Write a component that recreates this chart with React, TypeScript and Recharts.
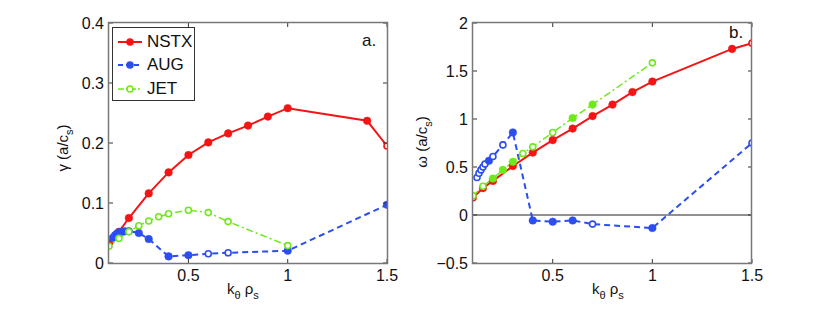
import React from "react";
import { LineChart, Line, XAxis, YAxis, ReferenceLine } from "recharts";

const NSTX_X = [0.1, 0.15, 0.2, 0.3, 0.4, 0.5, 0.6, 0.7, 0.8, 0.9, 1.0, 1.4, 1.5];
const NSTX_GAMMA = [0.033, 0.052, 0.075, 0.116, 0.151, 0.18, 0.201, 0.216, 0.229, 0.244, 0.258, 0.237, 0.195];
const NSTX_OMEGA = [0.18, 0.28, 0.355, 0.51, 0.65, 0.78, 0.9, 1.03, 1.15, 1.28, 1.39, 1.73, 1.79];
const NSTX_GAMMA_OPEN = [0, 0, 0, 0, 0, 0, 0, 0, 0, 0, 0, 0, 1];
const NSTX_OMEGA_OPEN = [1, 0, 0, 0, 0, 0, 0, 0, 0, 0, 0, 0, 1];

const AUG_X = [0.12, 0.13, 0.14, 0.15, 0.16, 0.18, 0.2, 0.25, 0.3, 0.4, 0.5, 0.6, 0.7, 1.0, 1.5];
const AUG_GAMMA = [0.042, 0.046, 0.049, 0.051, 0.052, 0.053, 0.053, 0.05, 0.04, 0.011, 0.013, 0.0155, 0.017, 0.0205, 0.097];
const AUG_OMEGA = [0.39, 0.435, 0.47, 0.5, 0.53, 0.565, 0.61, 0.73, 0.86, -0.057, -0.07, -0.057, -0.095, -0.136, 0.75];
const AUG_GAMMA_OPEN = [0, 0, 0, 0, 0, 0, 0, 0, 0, 0, 0, 1, 1, 0, 0];
const AUG_OMEGA_OPEN = [1, 1, 1, 1, 1, 0, 1, 1, 0, 0, 0, 0, 1, 0, 1];

const JET_X = [0.1, 0.15, 0.2, 0.25, 0.3, 0.35, 0.4, 0.5, 0.6, 0.7, 1.0];
const JET_GAMMA = [0.028, 0.041, 0.052, 0.062, 0.07, 0.077, 0.082, 0.088, 0.084, 0.069, 0.029];
const JET_OMEGA = [0.2, 0.3, 0.38, 0.47, 0.555, 0.64, 0.71, 0.86, 1.01, 1.15, 1.585];
const JET_GAMMA_OPEN = [1, 1, 1, 1, 1, 1, 1, 1, 1, 1, 1];
const JET_OMEGA_OPEN = [1, 1, 0, 0, 0, 1, 1, 1, 0, 0, 1];

const X_DOMAIN = [0.1, 1.5];
const X_TICKS = [0.5, 1, 1.5];
const GAMMA_DOMAIN = [0, 0.4];
const GAMMA_TICKS = [0, 0.1, 0.2, 0.3, 0.4];
const OMEGA_DOMAIN = [-0.5, 2];
const OMEGA_TICKS = [-0.5, 0, 0.5, 1, 1.5, 2];

const RED = "#f41414";
const BLUE = "#2b4df2";
const GREEN = "#6fe81c";
const BOX = "#777";
const FONT = "'Liberation Sans', Arial, sans-serif";

const rows = (xs: number[], ys: number[], open: number[]) =>
  xs.map((x, i) => ({ x, y: ys[i], open: open[i] === 1 }));

const makeDot = (color: string) => (props: any) => {
  const { cx, cy, index, payload } = props;
  if (cx == null || cy == null) return <g key={index} />;
  if (payload.open) {
    return <circle key={index} cx={cx} cy={cy} r={3} fill="#fff" stroke={color} strokeWidth={1.6} />;
  }
  return <circle key={index} cx={cx} cy={cy} r={3.8} fill={color} stroke={color} strokeWidth={0.5} />;
};

const fmt = (v: number) => (v < 0 ? "\u2212" + Math.abs(v) : String(v));

const BottomTick = (props: any) => {
  const { x, y, payload } = props;
  return (
    <g>
      <path d={`M${x},${y}V${y - 4}`} stroke="#333" strokeWidth={1} />
      <text x={x} y={y + 18} textAnchor="middle" fontSize={16} fontFamily={FONT} fill="#111">
        {fmt(payload.value)}
      </text>
    </g>
  );
};

const TopTick = (props: any) => {
  const { x, y } = props;
  return <path d={`M${x},${y}V${y + 4}`} stroke="#333" strokeWidth={1} />;
};

const LeftTick = (props: any) => {
  const { x, y, payload } = props;
  return (
    <g>
      <path d={`M${x},${y}H${x + 4}`} stroke="#333" strokeWidth={1} />
      <text x={x - 5} y={y + 6} textAnchor="end" fontSize={16} fontFamily={FONT} fill="#111">
        {fmt(payload.value)}
      </text>
    </g>
  );
};

const RightTick = (props: any) => {
  const { x, y } = props;
  return <path d={`M${x},${y}H${x - 4}`} stroke="#333" strokeWidth={1} />;
};

const axes = (yDomain: number[], yTicks: number[]) => [
  <XAxis key="xb" xAxisId="b" type="number" dataKey="x" domain={X_DOMAIN} ticks={X_TICKS} height={20}
    tickSize={0} tickMargin={0} axisLine={false} tick={<BottomTick />} allowDataOverflow />,
  <XAxis key="xt" xAxisId="t" orientation="top" type="number" dataKey="x" domain={X_DOMAIN} ticks={X_TICKS} height={2}
    tickSize={0} tickMargin={0} axisLine={false} tick={<TopTick />} allowDataOverflow />,
  <YAxis key="yl" yAxisId="l" type="number" domain={yDomain} ticks={yTicks} width={30}
    tickSize={0} tickMargin={0} axisLine={false} tick={<LeftTick />} allowDataOverflow />,
  <YAxis key="yr" yAxisId="r" orientation="right" type="number" domain={yDomain} ticks={yTicks} width={2}
    tickSize={0} tickMargin={0} axisLine={false} tick={<RightTick />} allowDataOverflow />,
];

const series = (nstx: any[], aug: any[], jet: any[]) => [
  <Line key="n" xAxisId="b" yAxisId="l" data={nstx} dataKey="y" name="NSTX" stroke={RED} strokeWidth={2} dot={makeDot(RED)} isAnimationActive={false} />,
  <Line key="a" xAxisId="b" yAxisId="l" data={aug} dataKey="y" name="AUG" stroke={BLUE} strokeWidth={2} strokeDasharray="6 4" dot={makeDot(BLUE)} isAnimationActive={false} />,
  <Line key="j" xAxisId="b" yAxisId="l" data={jet} dataKey="y" name="JET" stroke={GREEN} strokeWidth={1.5} strokeDasharray="7 3 2 3" dot={makeDot(GREEN)} isAnimationActive={false} />,
];

const LegendBox = () => {
  const items = [
    { name: "NSTX", color: RED, dash: undefined, open: false, w: 2 },
    { name: "AUG", color: BLUE, dash: "5 3", open: false, w: 2 },
    { name: "JET", color: GREEN, dash: "6 2 2 2", open: true, w: 1.5 },
  ];
  return (
    <div style={{ position: "absolute", left: 112, top: 27, width: 83, height: 74, border: "1px solid #333", background: "#fff", boxSizing: "border-box", paddingTop: 2 }}>
      {items.map((it) => (
        <div key={it.name} style={{ display: "flex", alignItems: "center", height: 23.5 }}>
          <svg width={30} height={14} style={{ marginLeft: 3 }}>
            <line x1={2} x2={26} y1={7} y2={7} stroke={it.color} strokeWidth={it.w} strokeDasharray={it.dash} />
            {it.open ? (
              <circle cx={14} cy={7} r={3} fill="#fff" stroke={it.color} strokeWidth={1.6} />
            ) : (
              <circle cx={14} cy={7} r={3.8} fill={it.color} />
            )}
          </svg>
          <span style={{ fontFamily: FONT, fontSize: 17, color: "#111", marginLeft: 1 }}>{it.name}</span>
        </div>
      ))}
    </div>
  );
};

// plot frames drawn as an svg overlay, matching the chart margins above
const Frames = () => (
  <svg width={830} height={310} style={{ position: "absolute", left: 0, top: 0, pointerEvents: "none", zIndex: 5 }}>
    <rect x={108.5} y={22.5} width={279} height={241} fill="none" stroke={BOX} strokeWidth={1.5} />
    <rect x={472.5} y={22.5} width={279} height={241} fill="none" stroke={BOX} strokeWidth={1.5} />
  </svg>
);

const labelStyle: React.CSSProperties = {
  position: "absolute",
  fontFamily: FONT,
  fontSize: 15,
  color: "#111",
  whiteSpace: "nowrap",
  zIndex: 6,
};

const Sub = ({ children }: { children: React.ReactNode }) => (
  <span style={{ fontSize: 11, position: "relative", top: 5 }}>{children}</span>
);

export default function App() {
  return (
    <div style={{ position: "relative", margin: -8, width: 830, height: 310, background: "#fff" }}>
      <div style={{ position: "absolute", left: 0, top: 0 }}>
        <LineChart width={400} height={310} margin={{ top: 21, right: 11, bottom: 27, left: 79 }}>
          {axes(GAMMA_DOMAIN, GAMMA_TICKS)}
          {series(
            rows(NSTX_X, NSTX_GAMMA, NSTX_GAMMA_OPEN),
            rows(AUG_X, AUG_GAMMA, AUG_GAMMA_OPEN),
            rows(JET_X, JET_GAMMA, JET_GAMMA_OPEN)
          )}
        </LineChart>
      </div>
      <div style={{ position: "absolute", left: 415, top: 0 }}>
        <LineChart width={415} height={310} margin={{ top: 21, right: 76, bottom: 27, left: 28 }}>
          {axes(OMEGA_DOMAIN, OMEGA_TICKS)}
          <ReferenceLine xAxisId="b" yAxisId="l" y={0} stroke="#222" strokeWidth={1} />
          {series(
            rows(NSTX_X, NSTX_OMEGA, NSTX_OMEGA_OPEN),
            rows(AUG_X, AUG_OMEGA, AUG_OMEGA_OPEN),
            rows(JET_X, JET_OMEGA, JET_OMEGA_OPEN)
          )}
        </LineChart>
      </div>

      <Frames />
      <div style={{ position: "absolute", zIndex: 6 }}>
        <LegendBox />
      </div>

      <div style={{ ...labelStyle, left: 362, top: 31, fontSize: 17 }}>a.</div>
      <div style={{ ...labelStyle, left: 729, top: 23, fontSize: 17 }}>b.</div>

      <div style={{ ...labelStyle, left: 227, top: 280 }}>
        k<Sub>θ</Sub> ρ<Sub>s</Sub>
      </div>
      <div style={{ ...labelStyle, left: 592, top: 280 }}>
        k<Sub>θ</Sub> ρ<Sub>s</Sub>
      </div>

      <div style={{ ...labelStyle, left: 62, top: 148, transform: "translate(-50%, -50%) rotate(-90deg)" }}>
        γ (a/c<Sub>s</Sub>)
      </div>
      <div style={{ ...labelStyle, left: 421, top: 142, transform: "translate(-50%, -50%) rotate(-90deg)" }}>
        ω (a/c<Sub>s</Sub>)
      </div>
    </div>
  );
}
